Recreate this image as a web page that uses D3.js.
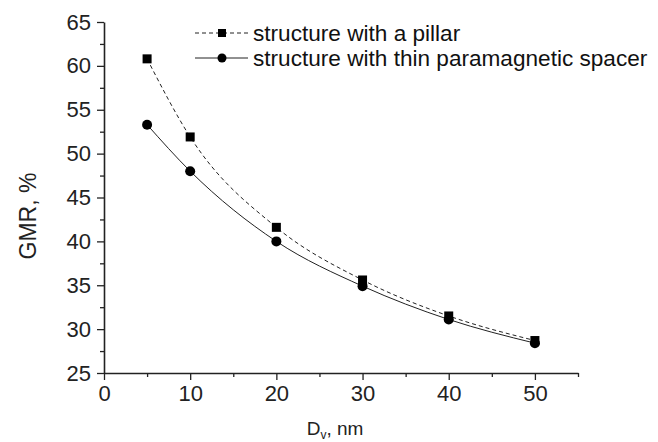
<!DOCTYPE html>
<html>
<head>
<meta charset="utf-8">
<script src="https://cdn.jsdelivr.net/npm/d3@7"></script>
<style>
    body { margin: 0; background: #fff; }
    svg { display: block; font-family: "Liberation Sans", Arial, sans-serif; }
</style>
</head>
<body>
<svg id="graph" width="658" height="442"></svg>
<script>
// diameter D_v, nm
const diameters = [5, 10, 20, 30, 40, 50];
// GMR, % for the two structures
const pillarGmr = [60.8, 51.9, 41.6, 35.6, 31.5, 28.7];
const spacerGmr = [53.3, 48.0, 40.0, 34.9, 31.1, 28.4];
const seriesNames = ['structure with a pillar', 'structure with thin paramagnetic spacer'];
const xTicks = [0, 10, 20, 30, 40, 50];
const yTicks = [25, 30, 35, 40, 45, 50, 55, 60, 65];

const svg = d3.select('#graph');
const margin = {top: 22, right: 80, bottom: 69, left: 104};
const width = +svg.attr('width') - margin.left - margin.right;
const height = +svg.attr('height') - margin.top - margin.bottom;

const g = svg.append('g')
    .attr('transform', `translate(${margin.left},${margin.top})`);

const x = d3.scaleLinear().domain([0, 55]).range([0, width]);
const y = d3.scaleLinear().domain([25, 65]).range([height, 0]);

// minor ticks first so the major axis draws on top
g.append('g')
    .attr('transform', `translate(0,${height})`)
    .call(d3.axisBottom(x).tickValues(d3.range(5, 56, 10)).tickSize(4).tickFormat(''))
    .call(a => a.select('.domain').remove());
g.append('g')
    .call(d3.axisLeft(y).tickValues(d3.range(27.5, 65, 5)).tickSize(4).tickFormat(''))
    .call(a => a.select('.domain').remove());

g.append('g')
    .attr('transform', `translate(0,${height})`)
    .call(d3.axisBottom(x).tickValues(xTicks).tickSize(7).tickSizeOuter(0).tickPadding(5));
g.append('g')
    .call(d3.axisLeft(y).tickValues(yTicks).tickSize(7).tickSizeOuter(0).tickPadding(6));

g.selectAll('.tick line').attr('stroke', '#222').attr('stroke-width', 1.3);
g.selectAll('.domain').attr('stroke', '#222').attr('stroke-width', 1.6);
g.selectAll('.tick text').attr('font-size', 22).attr('fill', '#222');

// axis titles
svg.append('text')
    .attr('transform', 'translate(36,216) rotate(-90)')
    .attr('text-anchor', 'middle')
    .attr('font-size', 23)
    .attr('fill', '#222')
    .text('GMR, %');

const xTitle = svg.append('text')
    .attr('x', 335)
    .attr('y', 435)
    .attr('text-anchor', 'middle')
    .attr('font-size', 19)
    .attr('fill', '#222');
xTitle.append('tspan').text('D');
xTitle.append('tspan').attr('font-size', 12).attr('dy', 4).text('v');
xTitle.append('tspan').attr('dy', -4).text(', nm');

const pillarData = diameters.map((d, i) => ({d, v: pillarGmr[i]}));
const spacerData = diameters.map((d, i) => ({d, v: spacerGmr[i]}));

const line = d3.line()
    .x(p => x(p.d))
    .y(p => y(p.v))
    .curve(d3.curveMonotoneX);

g.append('path')
    .datum(pillarData)
    .attr('fill', 'none')
    .attr('stroke', '#222')
    .attr('stroke-width', 1)
    .attr('stroke-dasharray', '4,3')
    .attr('d', line);

g.append('path')
    .datum(spacerData)
    .attr('fill', 'none')
    .attr('stroke', '#222')
    .attr('stroke-width', 1)
    .attr('d', line);

g.selectAll('.sq')
    .data(pillarData)
    .enter().append('rect')
    .attr('class', 'sq')
    .attr('x', p => x(p.d) - 4.5)
    .attr('y', p => y(p.v) - 4.5)
    .attr('width', 9)
    .attr('height', 9)
    .attr('fill', '#000');

g.selectAll('.dot')
    .data(spacerData)
    .enter().append('circle')
    .attr('class', 'dot')
    .attr('cx', p => x(p.d))
    .attr('cy', p => y(p.v))
    .attr('r', 5)
    .attr('fill', '#000');

// legend
const legend = svg.append('g').attr('transform', 'translate(195,33)');
seriesNames.forEach((name, i) => {
    const row = legend.append('g').attr('transform', `translate(0,${i * 25})`);
    row.append('line')
        .attr('x1', 0).attr('x2', 53)
        .attr('stroke', '#222')
        .attr('stroke-width', 1)
        .attr('stroke-dasharray', i === 0 ? '4,3' : null);
    if (i === 0) {
        row.append('rect').attr('x', 23).attr('y', -4).attr('width', 8).attr('height', 8).attr('fill', '#000');
    } else {
        row.append('circle').attr('cx', 27).attr('r', 4.5).attr('fill', '#000');
    }
    row.append('text')
        .attr('x', 58)
        .attr('dy', '0.35em')
        .attr('font-size', 22.6)
        .attr('fill', '#111')
        .text(name);
});
</script>
</body>
</html>
